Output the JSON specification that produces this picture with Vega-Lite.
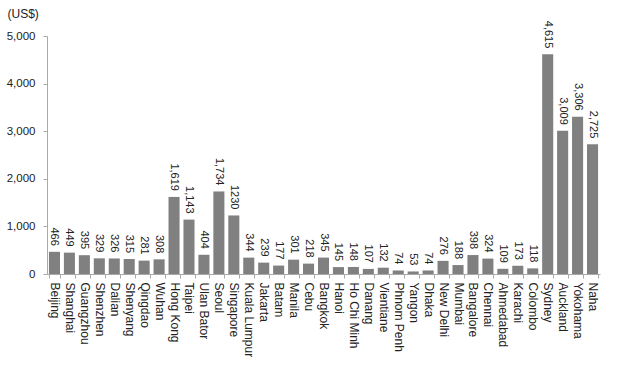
{
  "$schema": "https://vega.github.io/schema/vega-lite/v6.json",
  "autosize": {"type": "none"},
  "width": 553,
  "height": 238,
  "padding": {"left": 47, "top": 36, "right": 20, "bottom": 91},
  "background": "white",
  "config": {
    "view": {"stroke": null},
    "font": "Liberation Sans",
    "axis": {"labelFont": "Liberation Sans", "titleFont": "Liberation Sans", "labelColor": "#222", "domainColor": "#aaa", "tickColor": "#aaa", "grid": false}
  },
  "data": {
    "values": [
      {"city": "Beijing", "cost": 466, "label": "466"},
      {"city": "Shanghai", "cost": 449, "label": "449"},
      {"city": "Guangzhou", "cost": 395, "label": "395"},
      {"city": "Shenzhen", "cost": 329, "label": "329"},
      {"city": "Dalian", "cost": 326, "label": "326"},
      {"city": "Shenyang", "cost": 315, "label": "315"},
      {"city": "Qingdao", "cost": 281, "label": "281"},
      {"city": "Wuhan", "cost": 308, "label": "308"},
      {"city": "Hong Kong", "cost": 1619, "label": "1,619"},
      {"city": "Taipei", "cost": 1143, "label": "1,143"},
      {"city": "Ulan Bator", "cost": 404, "label": "404"},
      {"city": "Seoul", "cost": 1734, "label": "1,734"},
      {"city": "Singapore", "cost": 1230, "label": "1230"},
      {"city": "Kuala Lumpur", "cost": 344, "label": "344"},
      {"city": "Jakarta", "cost": 239, "label": "239"},
      {"city": "Batam", "cost": 177, "label": "177"},
      {"city": "Manila", "cost": 301, "label": "301"},
      {"city": "Cebu", "cost": 218, "label": "218"},
      {"city": "Bangkok", "cost": 345, "label": "345"},
      {"city": "Hanoi", "cost": 145, "label": "145"},
      {"city": "Ho Chi Minh", "cost": 148, "label": "148"},
      {"city": "Danang", "cost": 107, "label": "107"},
      {"city": "Vientiane", "cost": 132, "label": "132"},
      {"city": "Phnom Penh", "cost": 74, "label": "74"},
      {"city": "Yangon", "cost": 53, "label": "53"},
      {"city": "Dhaka", "cost": 74, "label": "74"},
      {"city": "New Delhi", "cost": 276, "label": "276"},
      {"city": "Mumbai", "cost": 188, "label": "188"},
      {"city": "Bangalore", "cost": 398, "label": "398"},
      {"city": "Chennai", "cost": 324, "label": "324"},
      {"city": "Ahmedabad", "cost": 109, "label": "109"},
      {"city": "Karachi", "cost": 173, "label": "173"},
      {"city": "Colombo", "cost": 118, "label": "118"},
      {"city": "Sydney", "cost": 4615, "label": "4,615"},
      {"city": "Auckland", "cost": 3009, "label": "3,009"},
      {"city": "Yokohama", "cost": 3306, "label": "3,306"},
      {"city": "Naha", "cost": 2725, "label": "2,725"}
    ]
  },
  "encoding": {
    "x": {
      "field": "city", "type": "nominal", "sort": null,
      "scale": {"paddingInner": 0.26, "paddingOuter": 0.13},
      "axis": {"title": null, "labelAngle": 90, "labelFontSize": 12, "labelPadding": 4, "tickBand": "extent", "tickSize": 4, "labelColor": "#222"}
    },
    "y": {
      "field": "cost", "type": "quantitative",
      "scale": {"domain": [0, 5000], "nice": false},
      "axis": {"values": [0, 1000, 2000, 3000, 4000, 5000], "format": ",.0f", "labelFontSize": 11.5, "tickSize": 4, "labelPadding": 8,
        "title": "(US$)", "titleAngle": 0, "titleAlign": "left", "titleBaseline": "middle", "titleX": -40, "titleY": -23, "titleFontSize": 12, "titleFontWeight": "normal", "titleColor": "#222"}
    }
  },
  "layer": [
    {"mark": {"type": "bar", "color": "#808080"}},
    {"mark": {"type": "text", "angle": 90, "align": "right", "baseline": "middle", "dx": -6, "fontSize": 11, "color": "#222"},
     "encoding": {"text": {"field": "label"}}}
  ]
}
